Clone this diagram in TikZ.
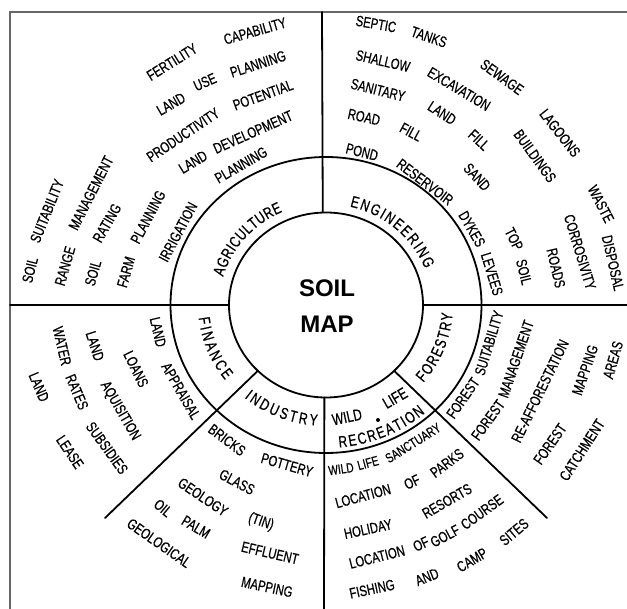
\documentclass[tikz,border=0pt]{standalone}
\usepackage{fontspec}
\setmainfont{Liberation Sans}[FakeStretch=0.75,FakeBold=0.6]
\newfontfamily\mapfont{Liberation Sans}
\usetikzlibrary{shapes.geometric,decorations.text,calc}
\begin{document}
\begin{tikzpicture}[x=1pt,y=-1pt,line cap=round,
  w/.style={inner sep=0pt,outer sep=0pt,font=\fontsize{15}{17}\selectfont},
  ws/.style={inner sep=0pt,outer sep=0pt,font=\fontsize{13.5}{16}\selectfont},
  wr/.style={inner sep=0pt,outer sep=0pt,font=\fontsize{16}{19}\selectfont},
  ring/.style={draw=black,line width=1.8pt,ellipse,inner sep=0pt,outer sep=0pt},
  spoke/.style={line width=1.8pt},
  framestyle/.style={draw=black!60,line width=1.6pt},
  lbl/.style={decorate,decoration={text along path,text align={fit to path},text={#1}}}
]
\useasboundingbox (0,0) rectangle (627,609);
\coordinate (C) at (326,305);
% frame
\coordinate (TL) at (10,12);
\coordinate (TR) at (627,12);
\coordinate (BL) at (10,609);
\draw[framestyle] (TR) -- (TL) -- (BL);
% rings
\node[ring,minimum width=311pt,minimum height=296pt] (outer) at (C) {};
\node[ring,minimum width=194pt,minimum height=185pt] (inner) at (C) {};
% spokes
\coordinate (sTop) at (322,12);
\coordinate (sLeft) at (10,305);
\coordinate (sRight) at (627,305);
\coordinate (sBot) at (324,609);
\coordinate (sLL) at (105,518);
\coordinate (sLR) at (547,518);
\draw[spoke] (inner.92) -- (sTop);
\draw[spoke] (inner.180) -- (sLeft);
\draw[spoke] (inner.0) -- (sRight);
\draw[spoke] (inner.269) -- (sBot);
\draw[spoke] (inner.224) -- (sLL);
\draw[spoke] (inner.316) -- (sLR);
% centre
\node[inner sep=0pt,font=\mapfont\bfseries\fontsize{24}{28}\selectfont] (soil) at (327,288) {SOIL};
\node[inner sep=0pt,font=\mapfont\bfseries\fontsize{24}{28}\selectfont] (map) at (327,324) {MAP};
% ring labels
\path[lbl={|\fontsize{16}{19}\selectfont|AGRICULTURE}] ($(C)+(164:107pt and 102pt)$) arc[start angle=164,end angle=114,x radius=107pt,y radius=102pt];
\path[lbl={|\fontsize{16}{19}\selectfont|ENGINEERING}] ($(C)+(77:106pt and 101pt)$) arc[start angle=77,end angle=21,x radius=106pt,y radius=101pt];
\path[lbl={|\fontsize{16}{19}\selectfont|FINANCE}] ($(C)+(186:128pt and 122pt)$) arc[start angle=186,end angle=218,x radius=128pt,y radius=122pt];
\path[lbl={|\fontsize{16}{19}\selectfont|INDUSTRY}] ($(C)+(230:127pt and 121pt)$) arc[start angle=230,end angle=266,x radius=127pt,y radius=121pt];
\path[lbl={|\fontsize{16}{19}\selectfont|FORESTRY}] ($(C)+(-40:127pt and 121pt)$) arc[start angle=-40,end angle=-4,x radius=127pt,y radius=121pt];
\path[lbl={|\fontsize{16}{19}\selectfont|RECREATION}] ($(C)+(275:151pt and 143pt)$) arc[start angle=275,end angle=311,x radius=151pt,y radius=143pt];
\node[wr,rotate=12] (r1) at (347,417) {WILD};
\node[circle,fill=black,inner sep=0pt,minimum size=4pt] (r2) at (378,420) {};
\node[wr,rotate=30] (r3) at (395,398) {LIFE};
% agriculture
\node[w,rotate=32] (a1) at (172,62) {FERTILITY};
\node[w,rotate=16] (a2) at (255,31) {CAPABILITY};
\node[w,rotate=30] (a3) at (171,104) {LAND};
\node[w,rotate=24] (a4) at (205,82) {USE};
\node[w,rotate=18] (a5) at (258,64) {PLANNING};
\node[w,rotate=34] (a6) at (183,135) {PRODUCTIVITY};
\node[w,rotate=20] (a7) at (263,95) {POTENTIAL};
\node[w,rotate=31] (a8) at (193,162) {LAND};
\node[w,rotate=24] (a9) at (253,132) {DEVELOPMENT};
\node[w,rotate=62] (a10) at (178,232) {IRRIGATION};
\node[w,rotate=30] (a11) at (241,165) {PLANNING};
\node[w,rotate=76] (a12) at (30,270) {SOIL};
\node[w,rotate=68] (a13) at (47,211) {SUITABILITY};
\node[w,rotate=74] (a14) at (65,266) {RANGE};
\node[w,rotate=63] (a15) at (91,193) {MANAGEMENT};
\node[w,rotate=74] (a16) at (93,273) {SOIL};
\node[w,rotate=60] (a17) at (107,223) {RATING};
\node[w,rotate=74] (a18) at (126,272) {FARM};
\node[w,rotate=62] (a19) at (148,217) {PLANNING};
% engineering
\node[w,rotate=-10] (e1) at (376,24) {SEPTIC};
\node[w,rotate=-19] (e2) at (429,37) {TANKS};
\node[w,rotate=-36] (e3) at (502,77) {SEWAGE};
\node[w,rotate=-52] (e4) at (560,133) {LAGOONS};
\node[w,rotate=-13] (e5) at (383,61) {SHALLOW};
\node[w,rotate=-31] (e6) at (459,89) {EXCAVATION};
\node[w,rotate=-14] (e7) at (378,90) {SANITARY};
\node[w,rotate=-33] (e8) at (442,113) {LAND};
\node[w,rotate=-43] (e9) at (479,140) {FILL};
\node[w,rotate=-12] (e10) at (364,117) {ROAD};
\node[w,rotate=-28] (e11) at (411,132) {FILL};
\node[w,rotate=-54] (e12) at (535,156) {BUILDINGS};
\node[w,rotate=-14] (e13) at (362,152) {POND};
\node[w,rotate=-37] (e14) at (425,182) {RESERVOIR};
\node[w,rotate=-47] (e15) at (477,177) {SAND};
\node[w,rotate=-60] (e16) at (472,229) {DYKES};
\node[w,rotate=-73] (e17) at (492,274) {LEVEES};
\node[w,rotate=-63] (e18) at (601,204) {WASTE};
\node[w,rotate=-77] (e19) at (613,263) {DISPOSAL};
\node[w,rotate=-73] (e20) at (580,252) {CORROSIVITY};
\node[w,rotate=-77] (e21) at (556,268) {ROADS};
\node[w,rotate=-63] (e22) at (514,239) {TOP};
\node[w,rotate=-76] (e23) at (524,272) {SOIL};
% finance
\node[w,rotate=-77] (f1) at (158,332) {LAND};
\node[w,rotate=-60] (f2) at (181,391) {APPRAISAL};
\node[w,rotate=-64] (f3) at (136,369) {LOANS};
\node[w,rotate=-72] (f4) at (95,346) {LAND};
\node[w,rotate=-60] (f5) at (120,411) {AQUISITION};
\node[w,rotate=-77] (f6) at (62,346) {WATER};
\node[w,rotate=-67] (f7) at (77,392) {RATES};
\node[w,rotate=-54] (f8) at (107,448) {SUBSIDIES};
\node[w,rotate=-67] (f9) at (39,387) {LAND};
\node[w,rotate=-56] (f10) at (70,452) {LEASE};
% industry
\node[w,rotate=-37] (i1) at (227,440) {BRICKS};
\node[w,rotate=-16] (i2) at (287,465) {POTTERY};
\node[w,rotate=-28] (i3) at (237,482) {GLASS};
\node[w,rotate=-34] (i4) at (203,497) {GEOLOGY};
\node[w,rotate=-19] (i5) at (261,522) {(TIN)};
\node[w,rotate=-40] (i6) at (163,508) {OIL};
\node[w,rotate=-31] (i7) at (196,527) {PALM};
\node[w,rotate=-35] (i8) at (159,543) {GEOLOGICAL};
\node[w,rotate=-13] (i9) at (270,553) {EFFLUENT};
\node[w,rotate=-12] (i10) at (267,587) {MAPPING};
% wild life
\node[ws,rotate=8] (w1) at (341,469) {WILD};
\node[ws,rotate=15] (w2) at (368,463) {LIFE};
\node[ws,rotate=32] (w3) at (413,443) {SANCTUARY};
\node[w,rotate=15] (w4) at (363,496) {LOCATION};
\node[w,rotate=25] (w5) at (412,482) {OF};
\node[w,rotate=37] (w6) at (447,463) {PARKS};
\node[w,rotate=12] (w7) at (368,529) {HOLIDAY};
\node[w,rotate=30] (w8) at (447,501) {RESORTS};
\node[w,rotate=14] (w9) at (377,557) {LOCATION};
\node[w,rotate=25] (w10) at (421,544) {OF};
\node[w,rotate=28] (w11) at (445,536) {GOLF};
\node[w,rotate=36] (w12) at (482,512) {COURSE};
\node[w,rotate=12] (w13) at (372,589) {FISHING};
\node[w,rotate=22] (w14) at (427,577) {AND};
\node[w,rotate=31] (w15) at (472,560) {CAMP};
\node[w,rotate=40] (w16) at (514,532) {SITES};
% forestry
\node[w,rotate=55] (o1) at (463,398) {FOREST};
\node[w,rotate=73] (o2) at (489,343) {SUITABILITY};
\node[w,rotate=54] (o3) at (488,420) {FOREST};
\node[w,rotate=71] (o4) at (516,359) {MANAGEMENT};
\node[w,rotate=64] (o5) at (540,391) {RE-AFFORESTATION};
\node[w,rotate=55] (o6) at (550,444) {FOREST};
\node[w,rotate=71] (o7) at (585,370) {MAPPING};
\node[w,rotate=57] (o8) at (582,450) {CATCHMENT};
\node[w,rotate=74] (o9) at (613,360) {AREAS};
\end{tikzpicture}
\end{document}
